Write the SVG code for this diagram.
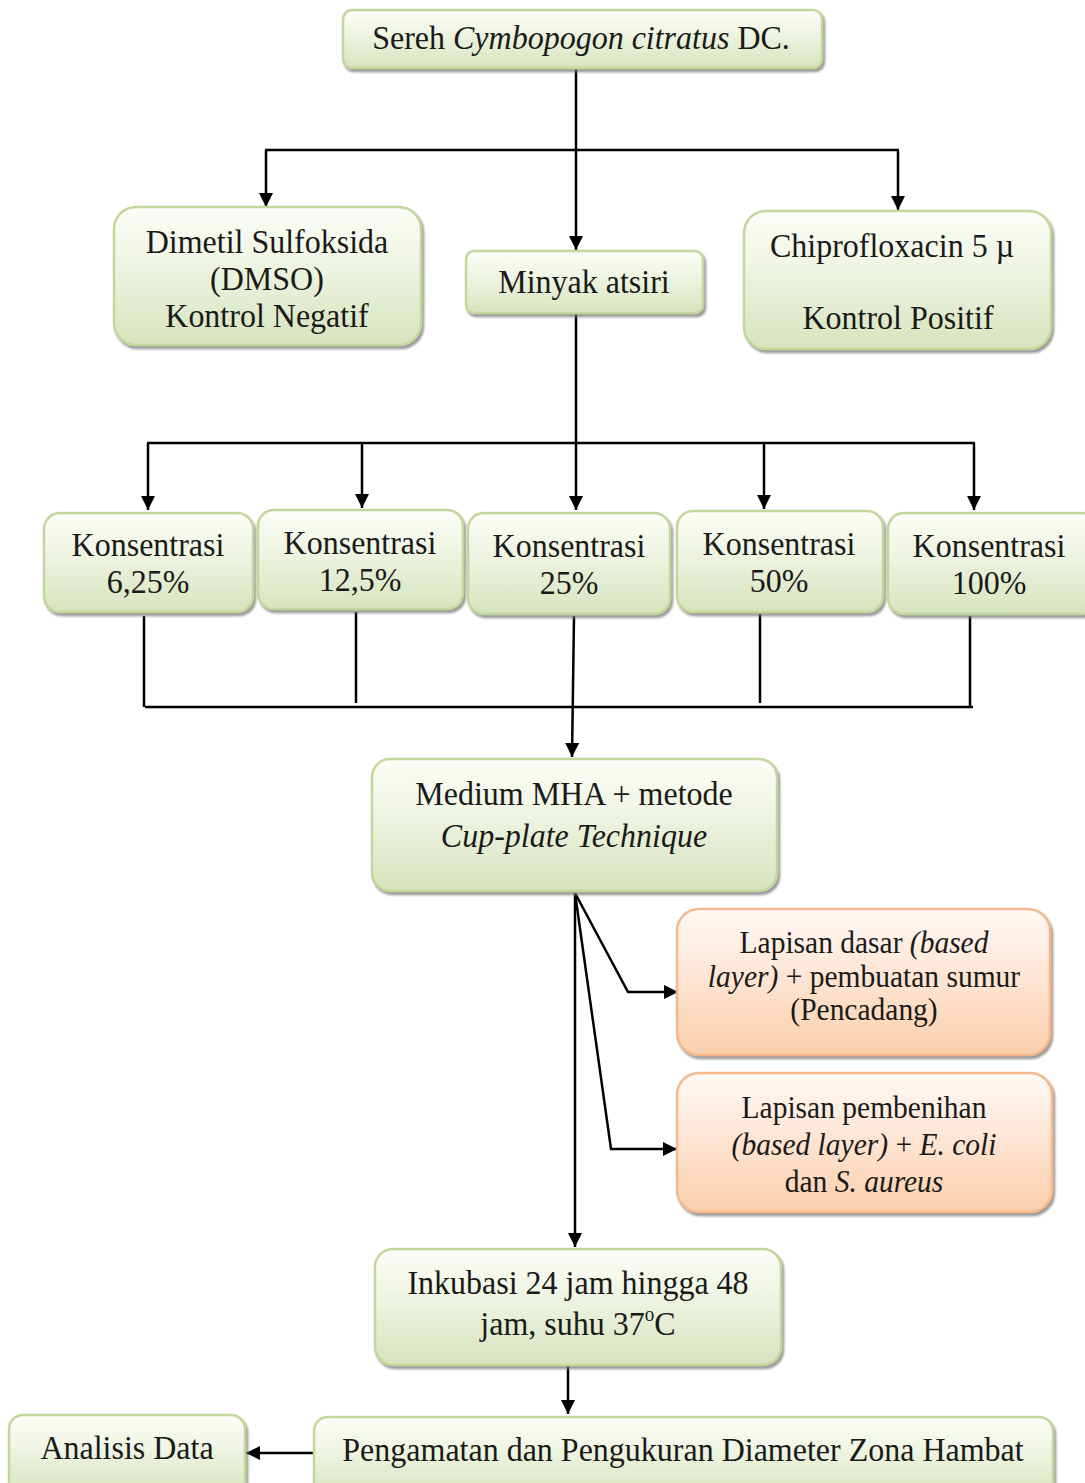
<svg xmlns="http://www.w3.org/2000/svg" width="1085" height="1483" viewBox="0 0 1085 1483">
<defs>
<linearGradient id="gG" x1="0" y1="0" x2="0" y2="1">
<stop offset="0" stop-color="#fcfdf8"/>
<stop offset="0.35" stop-color="#f1f6e6"/>
<stop offset="1" stop-color="#d6e4bd"/>
</linearGradient>
<linearGradient id="gO" x1="0" y1="0" x2="0" y2="1">
<stop offset="0" stop-color="#fff9f5"/>
<stop offset="0.35" stop-color="#feeadc"/>
<stop offset="1" stop-color="#fbcfac"/>
</linearGradient>
<filter id="sh" x="-5%" y="-5%" width="115%" height="120%">
<feDropShadow dx="2" dy="3" stdDeviation="1.2" flood-color="#7a7a7a" flood-opacity="0.75"/>
</filter>
<marker id="ar" markerUnits="userSpaceOnUse" markerWidth="14" markerHeight="14" refX="14" refY="7" orient="auto">
<path d="M0,0 L14,7 L0,14 z" fill="#000"/>
</marker>
</defs>
<style>
.g{fill:url(#gG);stroke:#c3d69b;stroke-width:2.5;filter:url(#sh)}
.o{fill:url(#gO);stroke:#f5b98c;stroke-width:2.5;filter:url(#sh)}
text{font-family:"Liberation Serif","Times New Roman",serif;font-size:32px;fill:#1a1a1a;text-anchor:middle}
.s{font-size:29.5px}
.i{font-style:italic}
.c line,.c polyline{stroke:#000;stroke-width:2.5;fill:none}
</style>

<g class="c" id="connectors">
<line x1="576" y1="68" x2="576" y2="250" marker-end="url(#ar)"/>
<line x1="265" y1="150" x2="899" y2="150"/>
<line x1="266" y1="150" x2="266" y2="207" marker-end="url(#ar)"/>
<line x1="898" y1="150" x2="898" y2="210" marker-end="url(#ar)"/>
<line x1="576" y1="314" x2="576" y2="510" marker-end="url(#ar)"/>
<line x1="147" y1="443" x2="975" y2="443"/>
<line x1="148" y1="443" x2="148" y2="510" marker-end="url(#ar)"/>
<line x1="362" y1="443" x2="362" y2="508" marker-end="url(#ar)"/>
<line x1="764" y1="443" x2="764" y2="509" marker-end="url(#ar)"/>
<line x1="974" y1="443" x2="974" y2="510" marker-end="url(#ar)"/>
<line x1="144" y1="616" x2="144" y2="707"/>
<line x1="356" y1="612" x2="356" y2="703"/>
<line x1="760" y1="614" x2="760" y2="703"/>
<line x1="970" y1="616" x2="970" y2="707"/>
<line x1="145" y1="707" x2="973" y2="707"/>
<line x1="574" y1="616" x2="572" y2="757" marker-end="url(#ar)"/>
<line x1="575" y1="893" x2="575" y2="1247" marker-end="url(#ar)"/>
<polyline points="575,893 628,992 678,992" marker-end="url(#ar)"/>
<polyline points="575,893 611,1149 677,1149" marker-end="url(#ar)"/>
<line x1="568" y1="1360" x2="568" y2="1414" marker-end="url(#ar)"/>
<line x1="314" y1="1453" x2="246" y2="1453" marker-end="url(#ar)"/>
</g>

<g id="n-sereh">
<rect class="g" x="343" y="10" width="479" height="58" rx="9"/>
<text transform="translate(581,49) scale(1,1.08)">Sereh <tspan class="i">Cymbopogon citratus</tspan> DC.</text>
</g>

<g id="n-dmso">
<rect class="g" x="114" y="207" width="307" height="138" rx="22"/>
<text transform="translate(267,253) scale(1,1.08)">Dimetil Sulfoksida</text>
<text transform="translate(267,290) scale(1,1.08)">(DMSO)</text>
<text transform="translate(267,327) scale(1,1.08)">Kontrol Negatif</text>
</g>

<g id="n-minyak">
<rect class="g" x="466" y="251" width="237" height="62" rx="8"/>
<text transform="translate(584,293) scale(1,1.08)">Minyak atsiri</text>
</g>

<g id="n-chipro">
<rect class="g" x="744" y="211" width="307" height="138" rx="22"/>
<text transform="translate(892,257) scale(1,1.08)">Chiprofloxacin 5 µ</text>
<text transform="translate(898,329) scale(1,1.08)">Kontrol Positif</text>
</g>

<g id="n-k1">
<rect class="g" x="44" y="513" width="209" height="99" rx="16"/>
<text transform="translate(148,556) scale(1,1.08)">Konsentrasi</text>
<text transform="translate(148,593) scale(1,1.08)">6,25%</text>
</g>
<g id="n-k2">
<rect class="g" x="258" y="510" width="205" height="99" rx="16"/>
<text transform="translate(360,554) scale(1,1.08)">Konsentrasi</text>
<text transform="translate(360,591) scale(1,1.08)">12,5%</text>
</g>
<g id="n-k3">
<rect class="g" x="468" y="513" width="202" height="101" rx="16"/>
<text transform="translate(569,557) scale(1,1.08)">Konsentrasi</text>
<text transform="translate(569,594) scale(1,1.08)">25%</text>
</g>
<g id="n-k4">
<rect class="g" x="677" y="511" width="206" height="101" rx="16"/>
<text transform="translate(779,555) scale(1,1.08)">Konsentrasi</text>
<text transform="translate(779,592) scale(1,1.08)">50%</text>
</g>
<g id="n-k5">
<rect class="g" x="888" y="513" width="210" height="101" rx="16"/>
<text transform="translate(989,557) scale(1,1.08)">Konsentrasi</text>
<text transform="translate(989,594) scale(1,1.08)">100%</text>
</g>

<g id="n-medium">
<rect class="g" x="372" y="759" width="405" height="132" rx="18"/>
<text transform="translate(574,805) scale(1,1.08)">Medium MHA + metode</text>
<text class="i" transform="translate(574,847) scale(1,1.08)">Cup-plate Technique</text>
</g>

<g id="n-dasar">
<rect class="o" x="677" y="909" width="373" height="146" rx="22"/>
<text class="s" transform="translate(864,953) scale(1,1.05)">Lapisan dasar <tspan class="i">(based</tspan></text>
<text class="s" transform="translate(864,987) scale(1,1.05)"><tspan class="i">layer)</tspan> + pembuatan sumur</text>
<text class="s" transform="translate(864,1020) scale(1,1.05)">(Pencadang)</text>
</g>

<g id="n-pembenihan">
<rect class="o" x="677" y="1073" width="375" height="139" rx="22"/>
<text class="s" transform="translate(864,1118) scale(1,1.05)">Lapisan pembenihan</text>
<text class="s i" transform="translate(864,1155) scale(1,1.05)">(based layer) <tspan font-style="normal">+</tspan> E. coli</text>
<text class="s" transform="translate(864,1192) scale(1,1.05)">dan <tspan class="i">S. aureus</tspan></text>
</g>

<g id="n-inkubasi">
<rect class="g" x="375" y="1249" width="406" height="116" rx="18"/>
<text transform="translate(578,1294) scale(1,1.08)">Inkubasi 24 jam hingga 48</text>
<text transform="translate(578,1335) scale(1,1.08)">jam, suhu 37<tspan font-size="19" dy="-13">o</tspan><tspan dy="13">C</tspan></text>
</g>

<g id="n-pengamatan">
<rect class="g" x="314" y="1417" width="739" height="80" rx="14"/>
<text transform="translate(683,1461) scale(1,1.08)">Pengamatan dan Pengukuran Diameter Zona Hambat</text>
</g>

<g id="n-analisis">
<rect class="g" x="9" y="1415" width="236" height="82" rx="14"/>
<text transform="translate(127,1459) scale(1,1.08)">Analisis Data</text>
</g>
</svg>
